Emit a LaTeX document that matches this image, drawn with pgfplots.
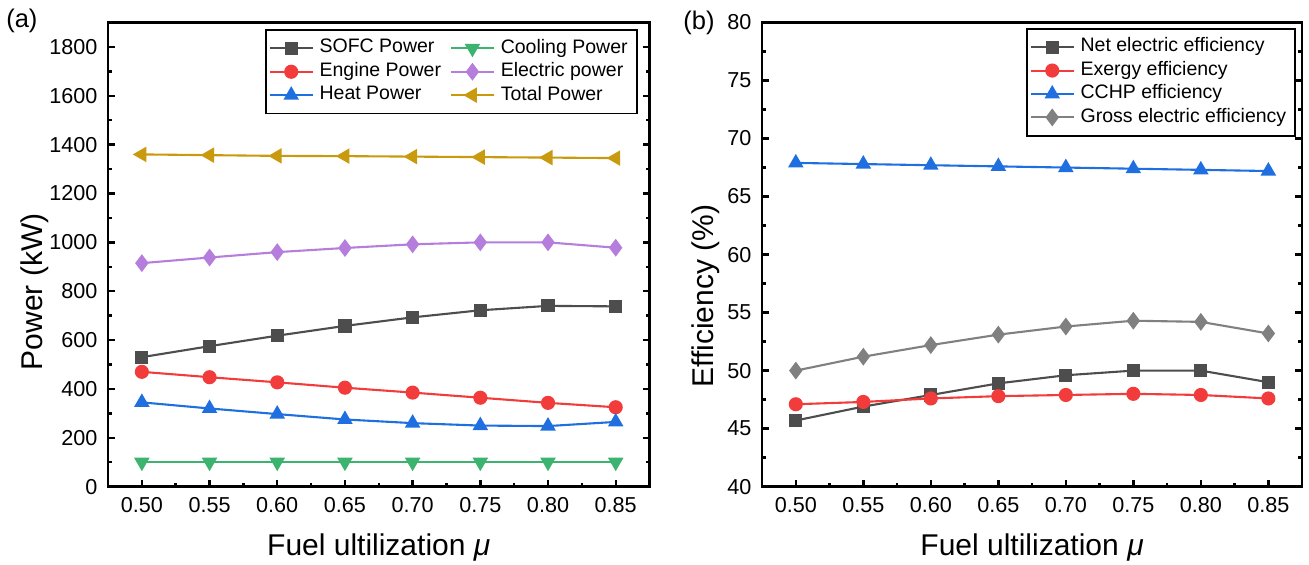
\documentclass[border=0pt]{standalone}
\usepackage{fontspec}
\setmainfont{Liberation Sans}
\usepackage{pgfplots}
\pgfplotsset{compat=1.18}
\definecolor{cdark}{HTML}{4D4D4D}
\definecolor{cred}{HTML}{F23B3B}
\definecolor{cblue}{HTML}{1F6FE0}
\definecolor{cgreen}{HTML}{3CB36F}
\definecolor{cpurple}{HTML}{B57EDC}
\definecolor{cgold}{HTML}{C99A0E}
\definecolor{cgray}{HTML}{808080}

\pgfplotsset{
  panel/.style={
    scale only axis, width=180.5pt, height=154.7pt,
    xmin=0.475, xmax=0.875,
    xtick={0.50,0.55,0.60,0.65,0.70,0.75,0.80,0.85},
    xticklabels={0.50,0.55,0.60,0.65,0.70,0.75,0.80,0.85},
    minor x tick num=1, minor y tick num=1,
    xtick pos=left, ytick pos=both, yticklabel pos=left,
    tick align=inside,
    major tick length=2.3pt, minor tick length=1.3pt,
    every tick/.style={black, line width=0.8pt},
    axis line style={line width=0.8pt},
    /pgf/number format/assume math mode=true,
    /pgf/number format/1000 sep={},
    tick label style={font=\fontsize{7.2}{8}\selectfont},
    label style={font=\fontsize{8.9}{10}\selectfont},
    xlabel={Fuel ultilization \textit{μ}},
    every axis x label/.style={at={(axis description cs:0.5,-0.132)}, anchor=center},
    legend style={draw=black, line width=0.6pt, font=\fontsize{6.5}{7.8}\selectfont,
      anchor=north east, inner sep=1pt, row sep=-2.4pt},
    legend cell align=left,
    legend image code/.code={\draw[mark repeat=2,mark phase=2] plot coordinates {(0cm,0cm) (0.25cm,0cm) (0.5cm,0cm)};},
    every axis plot/.append style={line width=0.7pt},
  },
  sq/.style={color=#1, mark=square*, mark size=1.85pt, mark options={fill=#1, solid}},
  ci/.style={color=#1, mark=*, mark size=2pt, mark options={fill=#1, solid}},
  tu/.style={color=#1, mark=triangle*, mark size=2.3pt, mark options={fill=#1, solid}},
  td/.style={color=#1, mark=triangle*, mark size=2.3pt, mark options={fill=#1, solid, rotate=180}},
  tl/.style={color=#1, mark=triangle*, mark size=2.3pt, mark options={fill=#1, solid, rotate=90}},
  di/.style={color=#1, mark=diamond*, mark size=2.4pt, mark options={fill=#1, solid}},
}

\begin{document}
\begin{tikzpicture}
\useasboundingbox (-36pt,-26.1pt) rectangle (400.3pt,162.2pt);

\begin{axis}[panel, at={(0pt,0pt)}, anchor=south west,
  ymin=0, ymax=1900, ytick={0,200,...,1800},
  ylabel={Power (kW)},
  every axis y label/.style={at={(axis description cs:-0.135,0.42)}, rotate=90, anchor=center},
  legend columns=2,
  legend style={at={(axis description cs:1,1)}, xshift=-4pt, yshift=-2.2pt,
    /tikz/every even column/.append style={column sep=1pt}},
]
\addplot[sq=cdark] coordinates {(0.50,530) (0.55,575) (0.60,618) (0.65,658) (0.70,693) (0.75,722) (0.80,740) (0.85,738)};
\addlegendentry{SOFC Power}
\addplot[td=cgreen] coordinates {(0.50,100) (0.55,100) (0.60,100) (0.65,100) (0.70,100) (0.75,100) (0.80,100) (0.85,100)};
\addlegendentry{Cooling Power}
\addplot[ci=cred] coordinates {(0.50,470) (0.55,448) (0.60,427) (0.65,405) (0.70,385) (0.75,364) (0.80,343) (0.85,325)};
\addlegendentry{Engine Power}
\addplot[di=cpurple] coordinates {(0.50,915) (0.55,938) (0.60,960) (0.65,977) (0.70,992) (0.75,1000) (0.80,1000) (0.85,978)};
\addlegendentry{Electric power}
\addplot[tu=cblue] coordinates {(0.50,345) (0.55,320) (0.60,297) (0.65,275) (0.70,260) (0.75,250) (0.80,248) (0.85,265)};
\addlegendentry{Heat Power}
\addplot[tl=cgold] coordinates {(0.50,1360) (0.55,1357) (0.60,1354) (0.65,1353) (0.70,1351) (0.75,1349) (0.80,1347) (0.85,1345)};
\addlegendentry{Total Power}
\end{axis}

\begin{axis}[panel, at={(218pt,0pt)}, anchor=south west, width=180pt,
  ymin=40, ymax=80, ytick={40,45,...,80},
  ylabel={Efficiency (\%)},
  every axis y label/.style={at={(axis description cs:-0.105,0.41)}, rotate=90, anchor=center},
  legend style={at={(axis description cs:1,1)}, xshift=-2pt, yshift=-1.8pt},
]
\addplot[sq=cdark] coordinates {(0.50,45.7) (0.55,46.9) (0.60,47.9) (0.65,48.9) (0.70,49.6) (0.75,50.0) (0.80,50.0) (0.85,49.0)};
\addlegendentry{Net electric efficiency}
\addplot[ci=cred] coordinates {(0.50,47.1) (0.55,47.3) (0.60,47.6) (0.65,47.8) (0.70,47.9) (0.75,48.0) (0.80,47.9) (0.85,47.6)};
\addlegendentry{Exergy efficiency}
\addplot[tu=cblue] coordinates {(0.50,67.9) (0.55,67.8) (0.60,67.7) (0.65,67.6) (0.70,67.5) (0.75,67.4) (0.80,67.3) (0.85,67.2)};
\addlegendentry{CCHP efficiency}
\addplot[di=cgray] coordinates {(0.50,50.0) (0.55,51.2) (0.60,52.2) (0.65,53.1) (0.70,53.8) (0.75,54.3) (0.80,54.2) (0.85,53.2)};
\addlegendentry{Gross electric efficiency}
\end{axis}

\node[font=\fontsize{8.5}{10}\selectfont] at (-28.7pt,155.2pt) {(a)};
\node[font=\fontsize{8.5}{10}\selectfont] at (197pt,154.6pt) {(b)};
\end{tikzpicture}
\end{document}
